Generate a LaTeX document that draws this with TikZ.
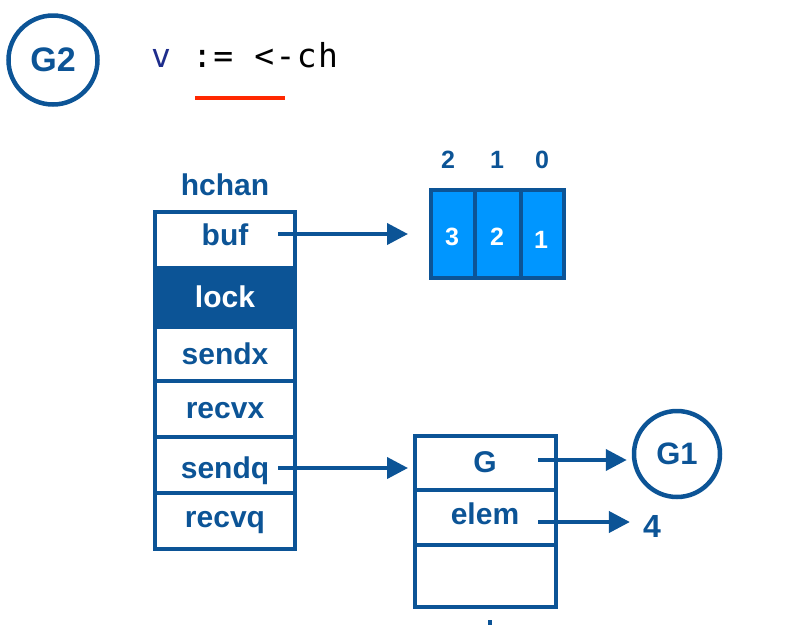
\documentclass[tikz,border=0pt]{standalone}
\usepackage{fontspec}
\setmainfont{Liberation Sans}
\newfontfamily\codefont[LetterSpace=4]{DejaVu Sans Mono}
\usetikzlibrary{arrows.meta}
\definecolor{dblue}{RGB}{12,84,150}
\definecolor{lblue}{RGB}{0,150,255}
\definecolor{codev}{RGB}{30,45,140}
\definecolor{ured}{RGB}{255,40,0}
\tikzset{
  lbl/.style={font=\fontsize{30}{30}\selectfont\bfseries, text=dblue, inner sep=0pt, anchor=base},
  rowbox/.style={draw=dblue, line width=4pt, minimum width=140pt, inner sep=0pt},
  cell/.style={draw=dblue, fill=lblue, line width=4pt, minimum height=88pt, inner sep=0pt},
  numw/.style={font=\fontsize{25}{25}\selectfont\bfseries, text=white, inner sep=0pt, anchor=base},
  idx/.style={font=\fontsize{25}{25}\selectfont\bfseries, text=dblue, inner sep=0pt, anchor=base},
  gcirc/.style={draw=dblue, line width=4.5pt, circle, inner sep=0pt, text=dblue},
  arr/.style={draw=dblue, line width=4pt, -{Triangle[length=21pt,width=21pt]}},
}
\begin{document}
\begin{tikzpicture}[x=1pt,y=-1pt]
\useasboundingbox (0,0) rectangle (796,625);

% header
\node[gcirc, minimum size=89pt, font=\fontsize{34}{34}\selectfont\bfseries] (G2) at (53,60) {G2};
\node[anchor=base west, inner sep=0pt] (code) at (151,67)
  {\codefont\fontsize{33}{33}\selectfont{\color{codev}v} := <-ch};
\coordinate (ulA) at (195,98);
\coordinate (ulB) at (285,98);
\draw[ured, line width=4pt] (ulA) -- (ulB);

% hchan
\node[lbl] (hchan) at (225,195) {hchan};
\node[rowbox, minimum height=56pt] (rbuf) at (225,240) {};
\node[rowbox, minimum height=59pt, fill=dblue] (rlock) at (225,297.5) {};
\node[rowbox, minimum height=54pt] (rsendx) at (225,354) {};
\node[rowbox, minimum height=56pt] (rrecvx) at (225,409) {};
\node[rowbox, minimum height=56pt] (rsendq) at (225,465) {};
\node[rowbox, minimum height=56pt] (rrecvq) at (225,521) {};
\node[lbl] (tbuf) at (225,245) {buf};
\node[lbl, text=white] (tlock) at (225,307) {lock};
\node[lbl] (tsendx) at (225,364) {sendx};
\node[lbl] (trecvx) at (225,418) {recvx};
\node[lbl] (tsendq) at (225,478) {sendq};
\node[lbl] (trecvq) at (225,527) {recvq};

% buffer
\node[cell, minimum width=44pt] (c0) at (453,234) {};
\node[cell, minimum width=46pt] (c1) at (498,234) {};
\node[cell, minimum width=43pt] (c2) at (542.5,234) {};
\node[numw] (n3) at (452,245) {3};
\node[numw] (n2) at (497,245) {2};
\node[numw] (n1) at (541,248) {1};
\node[idx] (i2) at (448,168) {2};
\node[idx] (i1) at (497,168) {1};
\node[idx] (i0) at (542,168) {0};

% sudog
\node[rowbox, minimum width=141pt, minimum height=54pt] (sG) at (485.5,463) {};
\node[rowbox, minimum width=141pt, minimum height=55pt] (sE) at (485.5,517.5) {};
\node[rowbox, minimum width=141pt, minimum height=62pt] (sX) at (485.5,576) {};
\node[lbl] (tG) at (485,472) {G};
\node[lbl] (telem) at (485,524) {elem};
\fill[dblue] (488,620) rectangle (492,625);

% G1 and 4
\node[gcirc, minimum size=86pt, font=\fontsize{31}{31}\selectfont\bfseries] (G1) at (677,454) {G1};
\node[lbl, font=\fontsize{32}{32}\selectfont\bfseries] (four) at (652,537) {4};

% arrows
\coordinate (bufp) at (278,234);
\coordinate (sqp) at (278,468);
\coordinate (gp) at (538,460);
\coordinate (ep) at (538,522);
\draw[arr, shorten >=21pt] (bufp) -- (bufp -| c0.west);
\draw[arr, shorten >=5pt] (sqp) -- (sqp -| sG.west);
\draw[arr, shorten >=5pt] (gp) -- (gp -| G1.west);
\draw[arr, shorten >=13pt] (ep) -- (ep -| four.west);
\end{tikzpicture}
\end{document}
